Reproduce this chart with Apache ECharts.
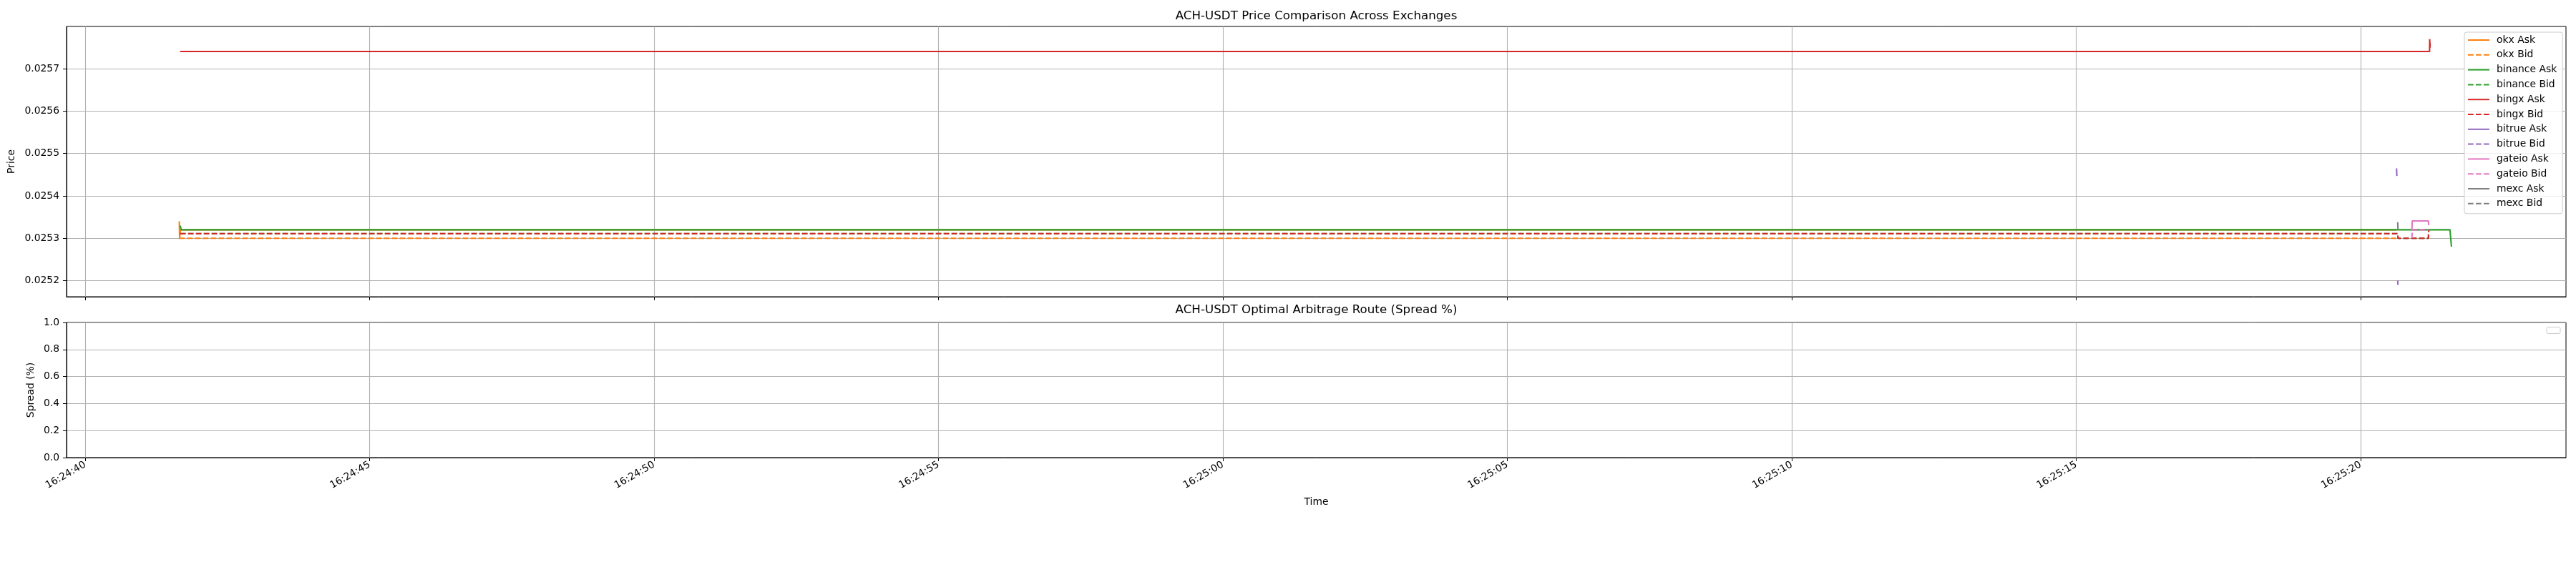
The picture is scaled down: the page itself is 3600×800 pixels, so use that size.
<!DOCTYPE html>
<html>
<head>
<meta charset="utf-8">
<script src="https://cdn.jsdelivr.net/npm/echarts@6/dist/echarts.min.js"></script>
<style>
html,body{margin:0;padding:0;background:#fff;}
#chart{width:3600px;height:800px;}
</style>
</head>
<body>
<div id="chart"></div>
<script>
// ---------- data (times in seconds after 16:24:40) ----------
const tickSeconds = [0, 5, 10, 15, 20, 25, 30, 35, 40];
const tickLabels = ['16:24:40', '16:24:45', '16:24:50', '16:24:55', '16:25:00', '16:25:05', '16:25:10', '16:25:15', '16:25:20'];
const priceTicks = [0.0252, 0.0253, 0.0254, 0.0255, 0.0256, 0.0257];
const spreadTicks = [0, 0.2, 0.4, 0.6, 0.8, 1.0];
const seriesNames = ['okx Ask', 'okx Bid', 'binance Ask', 'binance Bid', 'bingx Ask', 'bingx Bid',
  'bitrue Ask', 'bitrue Bid', 'gateio Ask', 'gateio Bid', 'mexc Ask', 'mexc Bid'];

const okxAskT = [1.655, 1.66, 1.675, 40.62];
const okxAskV = [0.02534, 0.02530, 0.02532, 0.02532];
const okxBidT = [1.655, 40.62];
const okxBidV = [0.02530, 0.02530];
const binanceAskT = [1.67, 1.69, 41.57, 41.575, 41.59, 41.595];
const binanceAskV = [0.02533, 0.02532, 0.02532, 0.02531, 0.02531, 0.02528];
const binanceBidT = [1.67, 40.65, 40.655, 41.19, 41.195];
const binanceBidV = [0.025311, 0.025311, 0.02530, 0.02530, 0.02532];
const bingxAskT = [1.67, 41.21, 41.213, 41.217, 41.22];
const bingxAskV = [0.025741, 0.025741, 0.02577, 0.02575, 0.02576];
const bingxBidT = [1.67, 40.65, 40.655, 41.19, 41.195];
const bingxBidV = [0.025311, 0.025311, 0.02530, 0.02530, 0.02532];
const bitrueAskT = [40.63, 40.635];
const bitrueAskV = [0.025465, 0.025447];
const bitrueBidT = [40.65, 40.655];
const bitrueBidV = [0.02520, 0.02519];
const gateioAskT = [40.90, 40.905, 41.19, 41.195];
const gateioAskV = [0.02532, 0.025341, 0.025341, 0.025331];
const gateioBidT = [40.90, 40.905, 41.19];
const gateioBidV = [0.02530, 0.02532, 0.02532];
const mexcAskT = [40.65, 40.655];
const mexcAskV = [0.025338, 0.02532];
const mexcBidT = [40.65];
const mexcBidV = [0.02531];

// ---------- styles ----------
const palette = {okx: '#ff7f0e', binance: '#2ca02c', bingx: '#d62728', bitrue: '#9467bd', gateio: '#e377c2', mexc: '#7f7f7f'};
const FONT = 'DejaVu Sans';
const dash = [7.7, 3.3];

function pairs(t, v) { return t.map((x, i) => [x, v[i]]); }
const rawSeries = [
  [okxAskT, okxAskV], [okxBidT, okxBidV],
  [binanceAskT, binanceAskV], [binanceBidT, binanceBidV],
  [bingxAskT, bingxAskV], [bingxBidT, bingxBidV],
  [bitrueAskT, bitrueAskV], [bitrueBidT, bitrueBidV],
  [gateioAskT, gateioAskV], [gateioBidT, gateioBidV],
  [mexcAskT, mexcAskV], [mexcBidT, mexcBidV]
];
const series = rawSeries.map((s, i) => {
  const name = seriesNames[i];
  const ex = name.split(' ')[0];
  const isBid = name.endsWith('Bid');
  return {
    name: name, type: 'line', xAxisIndex: 0, yAxisIndex: 0,
    data: pairs(s[0], s[1]),
    symbol: 'none', showSymbol: false, animation: false,
    color: palette[ex],
    lineStyle: {color: palette[ex], width: 2.08, type: isBid ? dash : 'solid'},
    emphasis: {disabled: true}
  };
});

const xMin = -0.327, xMax = 43.608;
function xLabel(v) {
  const idx = tickSeconds.findIndex(s => Math.abs(s - v) < 1e-6);
  return idx >= 0 ? tickLabels[idx] : '';
}
const gridL = 93, gridR = 14;
const commonX = {
  type: 'value', min: xMin, max: xMax,
  axisLine: {show: true, onZero: false, lineStyle: {color: '#000', width: 1}},
  axisTick: {show: true, length: 5, customValues: tickSeconds, lineStyle: {color: '#000', width: 1}},
  splitLine: {show: true, customValues: tickSeconds, lineStyle: {color: '#b0b0b0', width: 1.1}},
};

const option = {
  backgroundColor: '#fff',
  animation: false,
  title: [
    {text: 'ACH-USDT Price Comparison Across Exchanges', left: 1839.5, top: 14, textAlign: 'center', padding: 0,
      textStyle: {fontFamily: FONT, fontSize: 16.7, fontWeight: 'normal', color: '#000'}},
    {text: 'ACH-USDT Optimal Arbitrage Route (Spread %)', left: 1839.5, top: 425.5, textAlign: 'center', padding: 0,
      textStyle: {fontFamily: FONT, fontSize: 16.7, fontWeight: 'normal', color: '#000'}}
  ],
  grid: [
    {left: gridL, right: gridR, top: 37, height: 378, show: true, borderColor: '#000', borderWidth: 1, backgroundColor: 'transparent'},
    {left: gridL, right: gridR, top: 451, height: 189, show: true, borderColor: '#000', borderWidth: 1, backgroundColor: 'transparent'}
  ],
  xAxis: [
    Object.assign({}, commonX, {gridIndex: 0, axisLabel: {show: false}}),
    Object.assign({}, commonX, {gridIndex: 1,
      name: 'Time', nameLocation: 'middle', nameGap: 55,
      nameTextStyle: {fontFamily: FONT, fontSize: 13.9, color: '#000'},
      axisLabel: {show: true, customValues: tickSeconds, rotate: 30, margin: 9, formatter: xLabel,
        fontFamily: FONT, fontSize: 13.9, color: '#000'}})
  ],
  yAxis: [
    {type: 'value', gridIndex: 0, min: 0.025162, max: 0.0258,
      name: 'Price', nameLocation: 'middle', nameGap: 64,
      nameTextStyle: {fontFamily: FONT, fontSize: 13.9, color: '#000'},
      axisLine: {show: true, onZero: false, lineStyle: {color: '#000', width: 1}},
      axisTick: {show: true, length: 5, customValues: priceTicks, lineStyle: {color: '#000'}},
      axisLabel: {show: true, customValues: priceTicks, margin: 10, formatter: v => v.toFixed(4),
        fontFamily: FONT, fontSize: 13.9, color: '#000'},
      splitLine: {show: true, customValues: priceTicks, lineStyle: {color: '#b0b0b0', width: 1.1}}},
    {type: 'value', gridIndex: 1, min: 0, max: 1, interval: 0.2,
      name: 'Spread (%)', nameLocation: 'middle', nameGap: 39,
      nameTextStyle: {fontFamily: FONT, fontSize: 13.9, color: '#000'},
      axisLine: {show: true, onZero: false, lineStyle: {color: '#000', width: 1}},
      axisTick: {show: true, length: 5, lineStyle: {color: '#000'}},
      axisLabel: {show: true, margin: 10, formatter: v => v.toFixed(1),
        fontFamily: FONT, fontSize: 13.9, color: '#000'},
      splitLine: {show: true, lineStyle: {color: '#b0b0b0', width: 1.1}}}
  ],
  legend: {
    data: seriesNames, orient: 'vertical', left: 3444, top: 45,
    itemWidth: 30, itemHeight: 14, itemGap: 6.8,
    padding: [4, 8, 7, 4],
    backgroundColor: 'rgba(255,255,255,0.8)', borderColor: '#cccccc', borderWidth: 1, borderRadius: 3,
    itemStyle: {opacity: 0},
    textStyle: {fontFamily: FONT, fontSize: 13.9, color: '#000', padding: [0, 0, 0, 5]},
    selectedMode: false
  },
  graphic: [
    {type: 'rect', shape: {x: 3559, y: 457.5, width: 19, height: 9, r: 2},
      style: {fill: 'rgba(255,255,255,0.8)', stroke: '#cccccc', lineWidth: 1}, z: 100}
  ],
  series: series
};

const chart = echarts.init(document.getElementById('chart'), null, {renderer: 'canvas'});
chart.setOption(option);
</script>
</body>
</html>
